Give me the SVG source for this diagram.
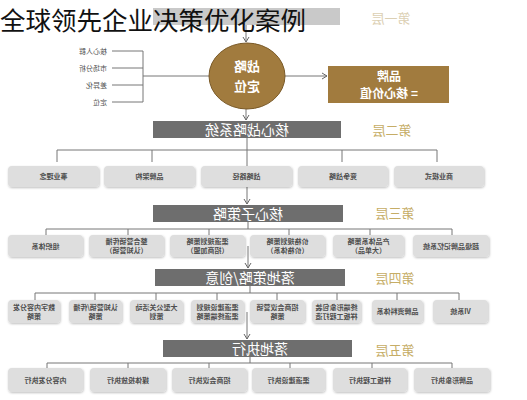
<svg xmlns="http://www.w3.org/2000/svg" width="527" height="400" viewBox="0 0 527 400">
<defs>
<marker id="arr" markerWidth="8" markerHeight="8" refX="6" refY="4" orient="auto" markerUnits="userSpaceOnUse">
<path d="M1,1 L6,4 L1,7" fill="none" stroke="#666" stroke-width="1"/>
</marker>
<filter id="sh" x="-10%" y="-20%" width="120%" height="150%">
<feDropShadow dx="0.6" dy="1" stdDeviation="0.8" flood-color="#000" flood-opacity="0.25"/>
</filter>
<style>
.box{fill:#dedede;filter:url(#sh)}
.bar{fill:#6e6e6e}
.bt{font-family:"Noto Sans CJK SC","Noto Sans",sans-serif;font-size:7px;font-weight:bold;fill:#4e4e4e;text-anchor:middle}
.barT{font-family:"Noto Sans CJK SC","Noto Sans",sans-serif;font-size:14px;fill:#fff;text-anchor:middle}
.lvl{font-family:"Noto Sans CJK SC","Noto Sans",sans-serif;font-size:13px;fill:#c6ad66;text-anchor:middle}
.lbl{font-family:"Noto Sans CJK SC","Noto Sans",sans-serif;font-size:7px;fill:#555;text-anchor:end}
.ln{stroke:#777;stroke-width:1;fill:none}
.wt{font-family:"Noto Sans CJK SC","Noto Sans",sans-serif;font-weight:bold;fill:#fff;text-anchor:middle}
</style>
</defs>
<rect width="527" height="400" fill="#fff"/>

<g id="connectors">
<line class="ln" x1="246" y1="25" x2="246" y2="42" marker-end="url(#arr)"/>
<line class="ln" x1="112" y1="51" x2="143" y2="51"/>
<line class="ln" x1="112" y1="68" x2="143" y2="68"/>
<line class="ln" x1="112" y1="85" x2="143" y2="85"/>
<line class="ln" x1="112" y1="102" x2="143" y2="102"/>
<line class="ln" x1="143" y1="51" x2="143" y2="102"/>
<line class="ln" x1="143" y1="76" x2="209" y2="76"/>
<line class="ln" x1="285" y1="76" x2="327" y2="76" marker-end="url(#arr)"/>
<line class="ln" x1="246" y1="109" x2="246" y2="120" marker-end="url(#arr)"/>
<line class="ln" x1="247" y1="138" x2="247" y2="166"/>
<path class="ln" d="M57,162 V150 H437 V162 M152,150 V162 M342,150 V162"/>
<line class="ln" x1="247" y1="187" x2="247" y2="204" marker-end="url(#arr)"/>
<line class="ln" x1="248" y1="222" x2="248" y2="229"/>
<path class="ln" d="M46,235 V229 H452 V235 M128,229 V235 M209,229 V235 M289,229 V235 M370,229 V235"/>
<line class="ln" x1="248" y1="246" x2="248" y2="268" marker-end="url(#arr)"/>
<line class="ln" x1="250" y1="286" x2="250" y2="293"/>
<path class="ln" d="M35,300 V293 H459 V300 M95,293 V300 M156,293 V300 M217,293 V300 M277,293 V300 M337,293 V300 M397,293 V300"/>
<line class="ln" x1="247" y1="312" x2="247" y2="339" marker-end="url(#arr)"/>
<line class="ln" x1="250" y1="357" x2="250" y2="363"/>
<path class="ln" d="M47,368 V363 H452 V368 M128,363 V368 M209,363 V368 M290,363 V368 M372,363 V368"/>
</g>

<g id="top-bar"><rect x="153" y="8" width="187" height="17" fill="#c9c9c9"/></g>
<g id="level1"><text class="lvl" transform="scale(-1,1)" x="-391" y="23" style="fill:#dcd0b4">第一层</text></g>

<g id="left-labels">
<g transform="scale(-1,1)">
<text class="lbl" style="text-anchor:start" x="-107" y="54">核心人群</text>
<text class="lbl" style="text-anchor:start" x="-107" y="71">市场分析</text>
<text class="lbl" style="text-anchor:start" x="-107" y="88">差异化</text>
<text class="lbl" style="text-anchor:start" x="-107" y="105">定位</text>
</g>
</g>

<g id="strategy-ellipse">
<ellipse cx="247" cy="76" rx="38" ry="33" fill="#a17b3e" stroke="#7a5a28" stroke-width="1"/>
<g transform="scale(-1,1)">
<text class="wt" x="-247" y="71" font-size="13">战略</text>
<text class="wt" x="-247" y="91" font-size="13">定位</text>
</g>
</g>

<g id="brand-box">
<rect x="328" y="66" width="121" height="37" fill="#a17b3e"/>
<g transform="scale(-1,1)">
<text class="wt" x="-389" y="81" font-size="12">品牌</text>
<text class="wt" x="-389" y="98" font-size="12">= 核心价值</text>
</g>
</g>

<g id="bar2"><rect class="bar" x="153" y="121" width="188" height="17"/><text class="barT" transform="scale(-1,1)" x="-247" y="135">核心战略系统</text></g>
<g id="level2"><text class="lvl" transform="scale(-1,1)" x="-392" y="135">第二层</text></g>

<g id="l2-boxes">
<g id="l2-1"><rect class="box" x="8" y="166" width="91" height="21" rx="4"/><text class="bt" transform="scale(-1,1)" x="-53.5" y="179">事业理念</text></g>
<g id="l2-2"><rect class="box" x="104" y="166" width="91" height="21" rx="4"/><text class="bt" transform="scale(-1,1)" x="-149.5" y="179">品牌架构</text></g>
<g id="l2-3"><rect class="box" x="201" y="166" width="91" height="21" rx="4"/><text class="bt" transform="scale(-1,1)" x="-246.5" y="179">战略路径</text></g>
<g id="l2-4"><rect class="box" x="298" y="166" width="90" height="21" rx="4"/><text class="bt" transform="scale(-1,1)" x="-343" y="179">竞争战略</text></g>
<g id="l2-5"><rect class="box" x="394" y="166" width="90" height="21" rx="4"/><text class="bt" transform="scale(-1,1)" x="-439" y="179">商业模式</text></g>
</g>

<g id="bar3"><rect class="bar" x="153" y="205" width="190" height="17"/><text class="barT" transform="scale(-1,1)" x="-248" y="219">核心子策略</text></g>
<g id="level3"><text class="lvl" transform="scale(-1,1)" x="-395" y="218">第三层</text></g>

<g id="l3-boxes">
<g id="l3-1"><rect class="box" x="8" y="235" width="75" height="22" rx="4"/><text class="bt" transform="scale(-1,1)" x="-45.5" y="249">组织体系</text></g>
<g id="l3-2"><rect class="box" x="89" y="235" width="75" height="22" rx="4"/><g transform="scale(-1,1)"><text class="bt" x="-126.5" y="244">整合营销传播</text><text class="bt" x="-126.5" y="253">（认知营销）</text></g></g>
<g id="l3-3"><rect class="box" x="170" y="235" width="75" height="22" rx="4"/><g transform="scale(-1,1)"><text class="bt" x="-207.5" y="244">渠道规划策略</text><text class="bt" x="-207.5" y="253">（招商加盟）</text></g></g>
<g id="l3-4"><rect class="box" x="250" y="235" width="75" height="22" rx="4"/><g transform="scale(-1,1)"><text class="bt" x="-287.5" y="244">价格规划策略</text><text class="bt" x="-287.5" y="253">（价格体系）</text></g></g>
<g id="l3-5"><rect class="box" x="333" y="235" width="71" height="22" rx="4"/><g transform="scale(-1,1)"><text class="bt" x="-368.5" y="244">产品体系策略</text><text class="bt" x="-368.5" y="253">（大单品）</text></g></g>
<g id="l3-6"><rect class="box" x="413" y="235" width="76" height="22" rx="4"/><text class="bt" transform="scale(-1,1)" x="-451" y="249">超级品牌记忆系统</text></g>
</g>

<g id="bar4"><rect class="bar" x="155" y="269" width="190" height="17"/><text class="barT" transform="scale(-1,1)" x="-250" y="283">落地策略/创意</text></g>
<g id="level4"><text class="lvl" transform="scale(-1,1)" x="-395" y="283">第四层</text></g>

<g id="l4-boxes">
<g id="l4-1"><rect class="box" x="8" y="300" width="52" height="23" rx="4"/><g transform="scale(-1,1)"><text class="bt" x="-34" y="310">数字内容分发</text><text class="bt" x="-34" y="319">策略</text></g></g>
<g id="l4-2"><rect class="box" x="69" y="300" width="53" height="23" rx="4"/><g transform="scale(-1,1)"><text class="bt" x="-95.5" y="310">认知营销/传播</text><text class="bt" x="-95.5" y="319">策略</text></g></g>
<g id="l4-3"><rect class="box" x="130" y="300" width="53" height="23" rx="4"/><g transform="scale(-1,1)"><text class="bt" x="-156.5" y="310">大型公关活动</text><text class="bt" x="-156.5" y="319">策划</text></g></g>
<g id="l4-4"><rect class="box" x="191" y="300" width="53" height="23" rx="4"/><g transform="scale(-1,1)"><text class="bt" x="-217.5" y="310">渠道建设规划</text><text class="bt" x="-217.5" y="319">渠道终端策略</text></g></g>
<g id="l4-5"><rect class="box" x="250" y="300" width="55" height="23" rx="4"/><g transform="scale(-1,1)"><text class="bt" x="-277.5" y="310">招商会议营销</text><text class="bt" x="-277.5" y="319">策略</text></g></g>
<g id="l4-6"><rect class="box" x="312" y="300" width="49" height="23" rx="4"/><g transform="scale(-1,1)"><text class="bt" x="-336.5" y="310">终端形象包装</text><text class="bt" x="-336.5" y="319">样板工程打造</text></g></g>
<g id="l4-7"><rect class="box" x="372" y="300" width="51" height="23" rx="4"/><text class="bt" transform="scale(-1,1)" x="-397.5" y="314">品牌资料体系</text></g>
<g id="l4-8"><rect class="box" x="433" y="300" width="55" height="23" rx="4"/><text class="bt" transform="scale(-1,1)" x="-460.5" y="314">VI系统</text></g>
</g>

<g id="bar5"><rect class="bar" x="163" y="340" width="189" height="17"/><text class="barT" transform="scale(-1,1)" x="-260" y="354">落地执行</text></g>
<g id="level5"><text class="lvl" transform="scale(-1,1)" x="-395" y="355">第五层</text></g>

<g id="l5-boxes">
<g id="l5-1"><rect class="box" x="8" y="368" width="75" height="24" rx="4"/><text class="bt" transform="scale(-1,1)" x="-45.5" y="383">内容分发执行</text></g>
<g id="l5-2"><rect class="box" x="90" y="368" width="76" height="24" rx="4"/><text class="bt" transform="scale(-1,1)" x="-128" y="383">媒体投放执行</text></g>
<g id="l5-3"><rect class="box" x="172" y="368" width="75" height="24" rx="4"/><text class="bt" transform="scale(-1,1)" x="-209.5" y="383">招商会议执行</text></g>
<g id="l5-4"><rect class="box" x="252" y="368" width="73" height="24" rx="4"/><text class="bt" transform="scale(-1,1)" x="-288.5" y="383">渠道建设执行</text></g>
<g id="l5-5"><rect class="box" x="333" y="368" width="74" height="24" rx="4"/><text class="bt" transform="scale(-1,1)" x="-370" y="383">样板工程执行</text></g>
<g id="l5-6"><rect class="box" x="414" y="368" width="76" height="24" rx="4"/><text class="bt" transform="scale(-1,1)" x="-452" y="383">品牌形象执行</text></g>
</g>

<g id="title"><text x="0" y="30" font-family="'Noto Sans CJK SC','Noto Sans',sans-serif" font-size="25.5" fill="#111">全球领先企业决策优化案例</text></g>
</svg>
